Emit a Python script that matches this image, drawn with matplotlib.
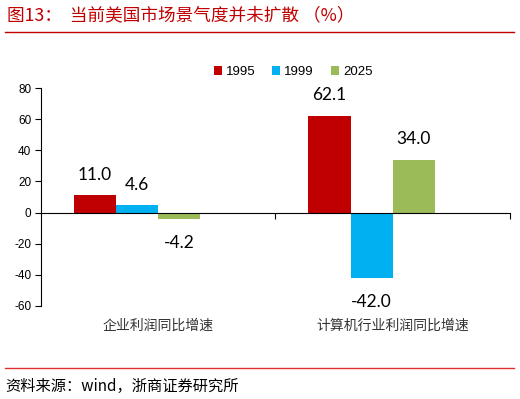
import numpy as np
import matplotlib
matplotlib.use("Agg")
import matplotlib.pyplot as plt

plt.rcParams['font.family'] = ['Noto Sans CJK SC', 'DejaVu Sans']

categories = ['企业利润同比增速', '计算机行业利润同比增速']
series_names = ['1995', '1999', '2025']
values_1995 = [11.0, 62.1]
values_1999 = [4.6, -42.0]
values_2025 = [-4.2, 34.0]
colors = ['#C00000', '#00B0F0', '#9BBB59']
yticks = [-60, -40, -20, 0, 20, 40, 60, 80]

fig = plt.figure(figsize=(5.2, 3.99), dpi=100)
ax = fig.add_axes([0.0788, 0.2331, 0.902, 0.5463])

x = np.arange(len(categories))
w = 0.18
for i, (vals, name, c) in enumerate(zip([values_1995, values_1999, values_2025], series_names, colors)):
    pos = x + (i - 1.5) * w
    ax.bar(pos, vals, width=w, color=c, label=name, zorder=2)
    for px, v in zip(pos, vals):
        off = 15 if v >= 0 else -17
        ax.annotate(f'{v:.1f}', (px, v), xytext=(0, off), textcoords='offset points',
                    ha='center', va='center', fontsize=12.5, family=['Lato', 'DejaVu Sans'],
                    color='black')

ax.set_xlim(-0.5, 1.5)
ax.set_ylim(-60, 80)
ax.set_yticks(yticks)
ax.set_yticklabels([str(t) for t in yticks], family=['Liberation Sans'], fontsize=8.5)
ax.tick_params(axis='y', direction='out', length=4, width=0.8, pad=3)

ax.spines['top'].set_visible(False)
ax.spines['right'].set_visible(False)
ax.spines['bottom'].set_position(('data', 0))
ax.spines['left'].set_linewidth(0.8)
ax.spines['bottom'].set_linewidth(0.8)
ax.set_xticks([0.5, 1.5])
ax.set_xticklabels([])
ax.tick_params(axis='x', direction='out', length=4, width=0.8)

# category names under the plot area
for xi, cat in zip(x, categories):
    ax.text(xi, -73, cat, ha='center', va='center', fontsize=10, color='#333333')

# legend
ax.legend(loc='center', bbox_to_anchor=(293 / 520, 1 - 72 / 399), bbox_transform=fig.transFigure,
          ncol=3, frameon=False, handlelength=0.6, handleheight=0.6,
          handletextpad=0.3, columnspacing=1.3, prop={'family': 'Liberation Sans', 'size': 9.5})

# title and source
fig.text(7 / 520, 1 - 15 / 399, '图13：  当前美国市场景气度并未扩散 （%）', fontsize=12.7,
         color='#C00000', ha='left', va='center')
fig.add_artist(plt.Line2D([5 / 520, 514 / 520], [1 - 32 / 399, 1 - 32 / 399], color='#C00000', lw=1))
fig.add_artist(plt.Line2D([5 / 520, 514 / 520], [1 - 368 / 399, 1 - 368 / 399], color='#E03030', lw=1))
fig.text(5 / 520, 1 - 386 / 399, '资料来源：wind，浙商证券研究所', fontsize=11,
         color='black', ha='left', va='center')

fig.savefig('out.png', dpi=100)
